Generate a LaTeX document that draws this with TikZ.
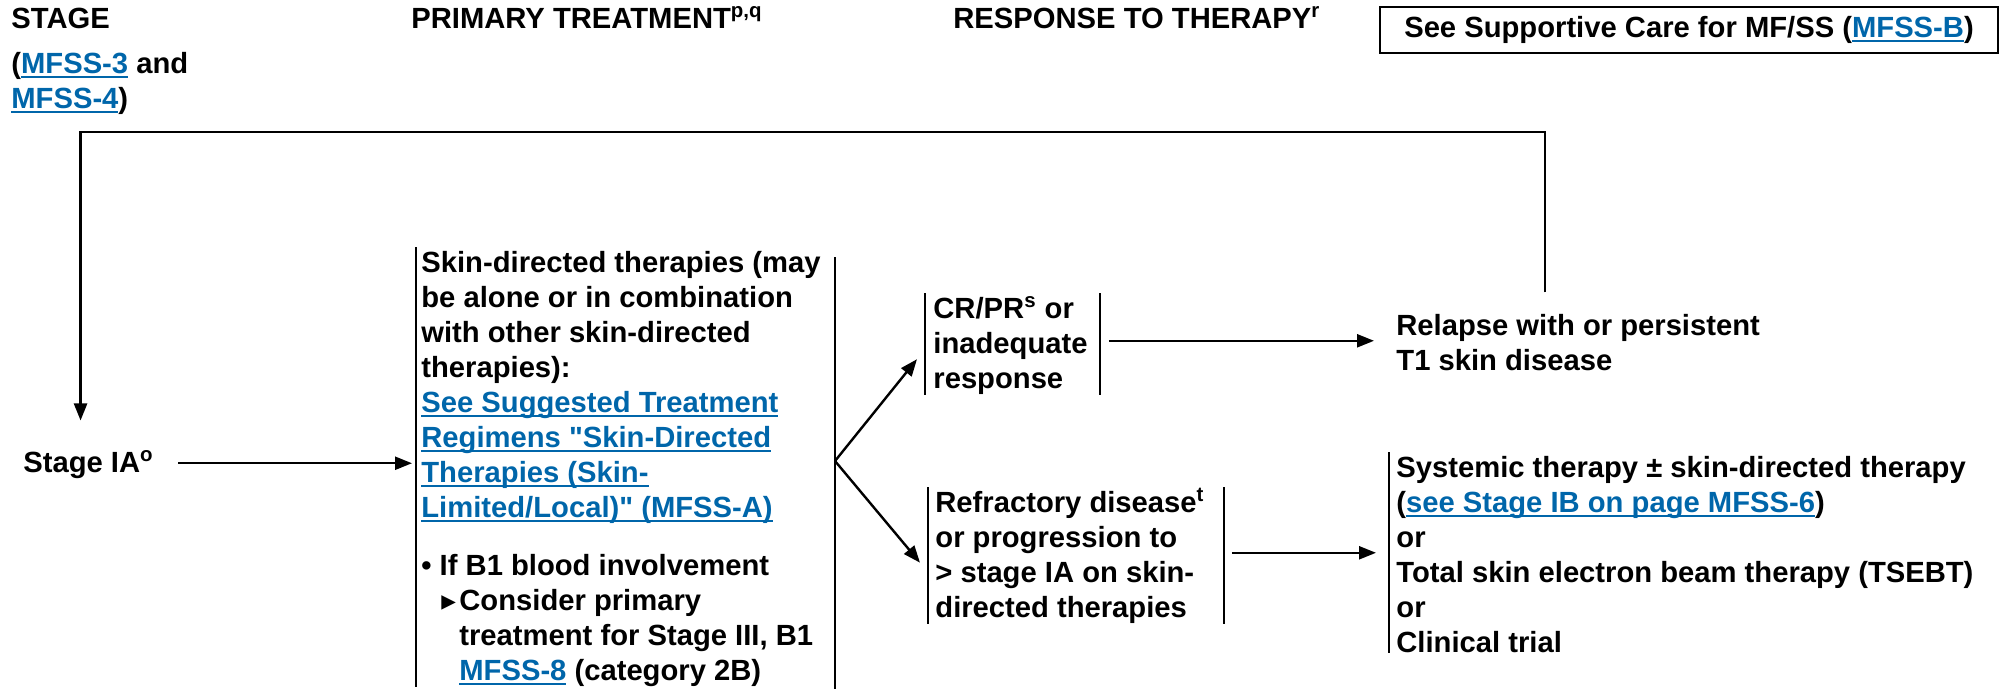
\documentclass[tikz,border=0pt]{standalone}
\usepackage{fontspec}
\setmainfont{Liberation Sans}
\newfontfamily\glyphfont{DejaVu Sans}
\usetikzlibrary{arrows.meta,positioning}
\definecolor{linkblue}{RGB}{0,102,170}
\newcommand\tstrut{\rule{0pt}{12.25pt}}
\newcommand\lnk[1]{{\color{linkblue}\setbox0\hbox{#1}\rlap{\rule[-2.2pt]{\wd0}{1pt}}\box0}}
\newcommand\tri{{\glyphfont ▸}}
\newcommand\dq{\XeTeXglyph\XeTeXcharglyph"0022\relax}
\tikzset{
  txt/.style={anchor=north west,align=left,inner sep=0pt,
    font=\fontsize{14.6}{17.5}\selectfont\bfseries},
  brk/.style={txt,inner xsep=4pt},
  note/.style={draw,line width=1.3pt,inner sep=0pt,minimum width=309pt,
    minimum height=23pt,font=\fontsize{14.6}{17.5}\selectfont\bfseries},
  bar/.style={line width=1.1pt},
  arrow/.style={-{Triangle[length=8.5pt,width=6.5pt]},line width=1.2pt}
}

\begin{document}
\begin{tikzpicture}[x=0.5pt,y=-0.5pt]
\useasboundingbox (0,0) rectangle (2003,689);
\node[txt] (sh) at (11,3.5) {\tstrut STAGE};
\node[txt,below right=9.75pt and 0pt of sh.south west] (sr) {\tstrut(\lnk{MFSS-3} and\\\lnk{MFSS-4})};
\node[txt] (ph) at (411,3.5) {\tstrut PRIMARY TREATMENT\textsuperscript{p,q}};
\node[txt] (rh) at (953,3.5) {\tstrut RESPONSE TO THERAPY\textsuperscript{r}};
\node[note] (care) at (1689,30) {See Supportive Care for MF/SS (\lnk{MFSS-B})};
\node[txt] (ia) at (23,447.5) {\tstrut Stage IA\textsuperscript{o}};
\node[txt,inner xsep=2.5pt] (prim) at (416,247.5) {\tstrut Skin-directed therapies (may\\
  be alone or in combination\\
  with other skin-directed\\
  therapies):\\
  \lnk{See Suggested Treatment}\\
  \lnk{Regimens \dq Skin-Directed}\\
  \lnk{Therapies (Skin-}\\
  \lnk{Limited/Local)\dq\ (MFSS-A)}\\[11.5pt]
  • If B1 blood involvement\\
  \hspace*{10pt}\makebox[9pt][l]{\tri}Consider primary\\
  \hspace*{19pt}treatment for Stage III, B1\\
  \hspace*{19pt}\lnk{MFSS-8} (category 2B)};
\node[brk] (cr) at (925,293.5) {\tstrut CR/PR\textsuperscript{s} or\\inadequate\\response};
\node[txt,inner xsep=3.5pt] (ref) at (928,487.5) {\tstrut Refractory disease\textsuperscript{t}\\or progression to\\> stage IA on skin-\\directed therapies};
\node[txt] (rel) at (1396,310.5) {\tstrut Relapse with or persistent\\T1 skin disease};
\node[txt,inner xsep=3.5pt] (sys) at (1389,452.5) {\tstrut Systemic therapy ± skin-directed therapy\\(\lnk{see Stage IB on page MFSS-6})\\or\\Total skin electron beam therapy (TSEBT)\\or\\Clinical trial};
\foreach \n in {prim,cr,ref,sys} \draw[bar] (\n.north west) -- (\n.south west);
\draw[bar] ([xshift=4.5pt,yshift=-5pt]prim.north east) -- ([xshift=4.5pt,yshift=-3pt]prim.south east);
\draw[bar] ([xshift=2pt]cr.north east) -- ([xshift=2pt]cr.south east);
\draw[bar] ([xshift=6pt]ref.north east) -- ([xshift=6pt]ref.south east);
\coordinate (fork) at (835,461);
\coordinate (loop) at (0,132);
\coordinate (drop) at ([xshift=-4pt,yshift=13.5pt]ia.north);
\draw[arrow] ([xshift=74.5pt,yshift=9pt]rel.north west) |- (drop |- loop) -- (drop);
\draw[arrow,shorten <=12pt,shorten >=2pt] (ia.east) -- (ia.east -| prim.west);
\foreach \n/\dy in {cr/-7.5pt,ref/-3.5pt} \draw[arrow] (fork) -- ([xshift=-4pt,yshift=\dy]\n.west);
\draw[arrow,shorten <=6.5pt,shorten >=11pt] (cr.east |- rel.west) -- (rel.west);
\draw[arrow,shorten <=10pt,shorten >=6.5pt] (ref.east |- sys.west) -- (sys.west);
\end{tikzpicture}
\end{document}
